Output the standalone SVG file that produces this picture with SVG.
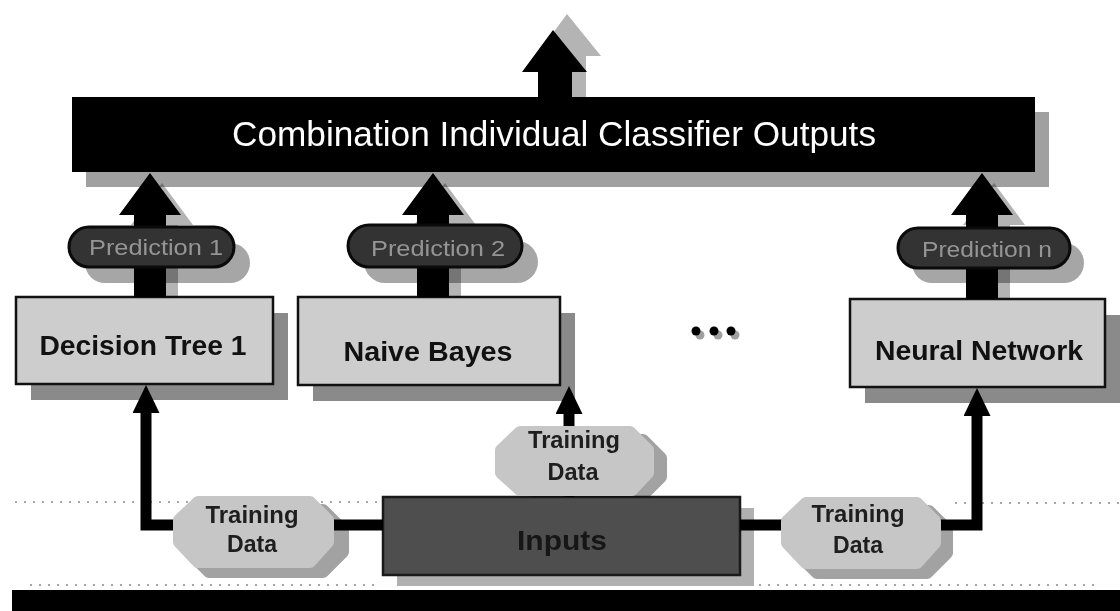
<svg xmlns="http://www.w3.org/2000/svg" width="1120" height="611" viewBox="0 0 1120 611">
  <style>
    .bg { fill: #ffffff; }
    .shadow { mix-blend-mode: multiply; }
    .bar { fill: #000000; }
    .bar-text { font-family: "Liberation Sans", Arial, sans-serif; font-size: 35px; fill: #ffffff; }
    .box { fill: #cdcdcd; stroke: #111111; stroke-width: 2.5; }
    .box-shadow { fill: #8a8a8a; }
    .box-text { font-family: "Liberation Sans", Arial, sans-serif; font-weight: bold; font-size: 28px; fill: #111111; }
    .pred { fill: #333333; stroke: #0a0a0a; stroke-width: 3; }
    .pred-shadow { fill: #a6a6a6; }
    .pred-text { font-family: "Liberation Sans", Arial, sans-serif; font-size: 22px; fill: #959595; }
    .train { fill: #c6c6c6; stroke: #c6c6c6; stroke-width: 12; stroke-linejoin: round; }
    .train-shadow { fill: #a2a2a2; stroke: #a2a2a2; stroke-width: 12; stroke-linejoin: round; }
    .train-text { font-family: "Liberation Sans", Arial, sans-serif; font-weight: bold; font-size: 23px; fill: #1e1e1e; }
    .inputs { fill: #4e4e4e; stroke: #1a1a1a; stroke-width: 2.5; }
    .inputs-shadow { fill: #b0b0b0; }
    .inputs-text { font-family: "Liberation Sans", Arial, sans-serif; font-weight: bold; font-size: 27px; fill: #161616; }
    .wire { fill: none; stroke: #000000; stroke-width: 11; }
    .fat { fill: #000000; }
    .fat-shadow { fill: #b4b4b4; }
    .dots { fill: none; stroke: #8a8a8a; stroke-width: 1.5; stroke-dasharray: 2 7; }
  </style>
  <defs>
    <marker id="head" markerUnits="userSpaceOnUse" viewBox="0 0 28 27" markerWidth="28" markerHeight="27" refX="0" refY="13.5" orient="auto">
      <path d="M0,0 L28,13.5 L0,27 Z" fill="#000000"/>
    </marker>
  </defs>

  <rect class="bg" x="0" y="0" width="1120" height="611"/>

  <!-- faint scan rules -->
  <g id="rules">
    <line class="dots" x1="15" y1="502" x2="383" y2="502"/>
    <line class="dots" x1="30" y1="585" x2="380" y2="585"/>
    <line class="dots" x1="955" y1="503" x2="1120" y2="503"/>
    <line class="dots" x1="750" y1="585" x2="1100" y2="585"/>
  </g>

  <!-- combiner bar -->
  <g id="combiner">
    <rect class="box-shadow" x="86" y="112" width="963" height="75" style="fill:#a0a0a0"/>
    <rect class="bar" x="72" y="97" width="963" height="75"/>
    <text class="bar-text" x="554" y="146" text-anchor="middle" textLength="644" lengthAdjust="spacingAndGlyphs">Combination Individual Classifier Outputs</text>
  </g>

  <!-- classifiers -->
  <g id="decision-tree">
    <rect class="box-shadow" x="31" y="313" width="257" height="87"/>
    <rect class="box" x="16" y="297" width="257" height="87"/>
    <text class="box-text" x="143" y="355" text-anchor="middle" textLength="207" lengthAdjust="spacingAndGlyphs" style="font-size:27px">Decision Tree 1</text>
  </g>
  <g id="naive-bayes">
    <rect class="box-shadow" x="313" y="313" width="262" height="88"/>
    <rect class="box" x="298" y="297" width="262" height="88"/>
    <text class="box-text" x="428" y="361" text-anchor="middle" textLength="169" lengthAdjust="spacingAndGlyphs">Naive Bayes</text>
  </g>
  <g id="neural-network">
    <rect class="box-shadow" x="865" y="315" width="255" height="88"/>
    <rect class="box" x="850" y="299" width="255" height="88"/>
    <text class="box-text" x="979" y="360" text-anchor="middle" textLength="208" lengthAdjust="spacingAndGlyphs">Neural Network</text>
  </g>

  <!-- data source -->
  <g id="inputs">
    <rect class="inputs-shadow" x="397" y="508" width="357" height="78"/>
    <rect class="inputs" x="383" y="497" width="357" height="78"/>
    <text class="inputs-text" x="562" y="550" text-anchor="middle" textLength="90" lengthAdjust="spacingAndGlyphs">Inputs</text>
  </g>

  <!-- arrows and wires -->
  <g id="connectors">
    <!-- output arrow -->
    <polygon class="fat-shadow" points="552,97 552,56 536,56 567,14 601,56 586,56 586,97"/>
    <polygon class="fat" points="538,97 538,72 522,72 553,30 587,72 572,72 572,97"/>
    <!-- prediction arrows -->
    <polygon class="fat-shadow shadow" points="146,297 146,225 131,225 162,183 193,225 178,225 178,297"/>
    <polygon class="fat" points="134,297 134,215 119,215 150,173 181,215 166,215 166,297"/>
    <polygon class="fat-shadow shadow" points="429,297 429,225 414,225 445,183 476,225 461,225 461,297"/>
    <polygon class="fat" points="417,297 417,215 402,215 433,173 464,215 449,215 449,297"/>
    <polygon class="fat-shadow shadow" points="978,299 978,225 963,225 994,183 1025,225 1010,225 1010,299"/>
    <polygon class="fat" points="966,299 966,215 951,215 982,173 1013,215 998,215 998,299"/>
    <!-- training data wires -->
    <path class="wire" d="M383,525 H146 V413" marker-end="url(#head)"/>
    <path class="wire" d="M569,497 V414" marker-end="url(#head)"/>
    <path class="wire" d="M740,525 H977 V416" marker-end="url(#head)"/>
  </g>

  <!-- prediction labels -->
  <g id="prediction-1">
    <rect class="pred-shadow shadow" x="85" y="243" width="165" height="40" rx="20"/>
    <rect class="pred" x="69" y="227" width="165" height="40" rx="20"/>
    <text class="pred-text" x="156" y="255" text-anchor="middle" textLength="134" lengthAdjust="spacingAndGlyphs">Prediction 1</text>
  </g>
  <g id="prediction-2">
    <rect class="pred-shadow shadow" x="364" y="241" width="174" height="42" rx="21"/>
    <rect class="pred" x="348" y="225" width="174" height="42" rx="21"/>
    <text class="pred-text" x="438" y="256" text-anchor="middle" textLength="134" lengthAdjust="spacingAndGlyphs">Prediction 2</text>
  </g>
  <g id="prediction-n">
    <rect class="pred-shadow shadow" x="912" y="243" width="172" height="40" rx="20"/>
    <rect class="pred" x="898" y="228" width="172" height="40" rx="20"/>
    <text class="pred-text" x="987" y="257" text-anchor="middle" textLength="130" lengthAdjust="spacingAndGlyphs">Prediction n</text>
  </g>

  <!-- training data labels -->
  <g id="training-data-1">
    <path class="train-shadow shadow" d="M209,510 H323 L343,530 V552 L323,572 H209 L189,552 V530 Z"/>
    <path class="train" d="M198,502 H310 L328,520 V542 L310,562 H198 L179,542 V520 Z"/>
    <text class="train-text" x="252" y="523" text-anchor="middle" textLength="93" lengthAdjust="spacingAndGlyphs">Training</text>
    <text class="train-text" x="252" y="552" text-anchor="middle" textLength="50" lengthAdjust="spacingAndGlyphs">Data</text>
  </g>
  <g id="training-data-2">
    <path class="train-shadow shadow" d="M531,440 H643 L661,458 V477 L647,491 H531 L513,473 V458 Z"/>
    <path class="train" d="M520,432 H630 L648,450 V473 L632,490 H520 L501,473 V450 Z"/>
    <text class="train-text" x="574" y="448" text-anchor="middle" textLength="92" lengthAdjust="spacingAndGlyphs">Training</text>
    <text class="train-text" x="573" y="480" text-anchor="middle" textLength="51" lengthAdjust="spacingAndGlyphs">Data</text>
  </g>
  <g id="training-data-3">
    <path class="train-shadow shadow" d="M817,511 H929 L947,529 V553 L927,573 H817 L797,553 V529 Z"/>
    <path class="train" d="M806,503 H917 L935,521 V543 L917,563 H806 L787,543 V521 Z"/>
    <text class="train-text" x="858" y="522" text-anchor="middle" textLength="93" lengthAdjust="spacingAndGlyphs">Training</text>
    <text class="train-text" x="858" y="553" text-anchor="middle" textLength="50" lengthAdjust="spacingAndGlyphs">Data</text>
  </g>

  <!-- ellipsis between classifiers -->
  <g id="ellipsis">
    <circle cx="700" cy="335" r="4.5" fill="#a0a0a0"/>
    <circle cx="718" cy="335" r="4.5" fill="#a0a0a0"/>
    <circle cx="735" cy="335" r="4.5" fill="#a0a0a0"/>
    <circle cx="696" cy="331" r="4.5" fill="#000000"/>
    <circle cx="714" cy="331" r="4.5" fill="#000000"/>
    <circle cx="731" cy="331" r="4.5" fill="#000000"/>
  </g>

  <!-- bottom band -->
  <rect x="12" y="590" width="1108" height="21" fill="#000000"/>
</svg>
